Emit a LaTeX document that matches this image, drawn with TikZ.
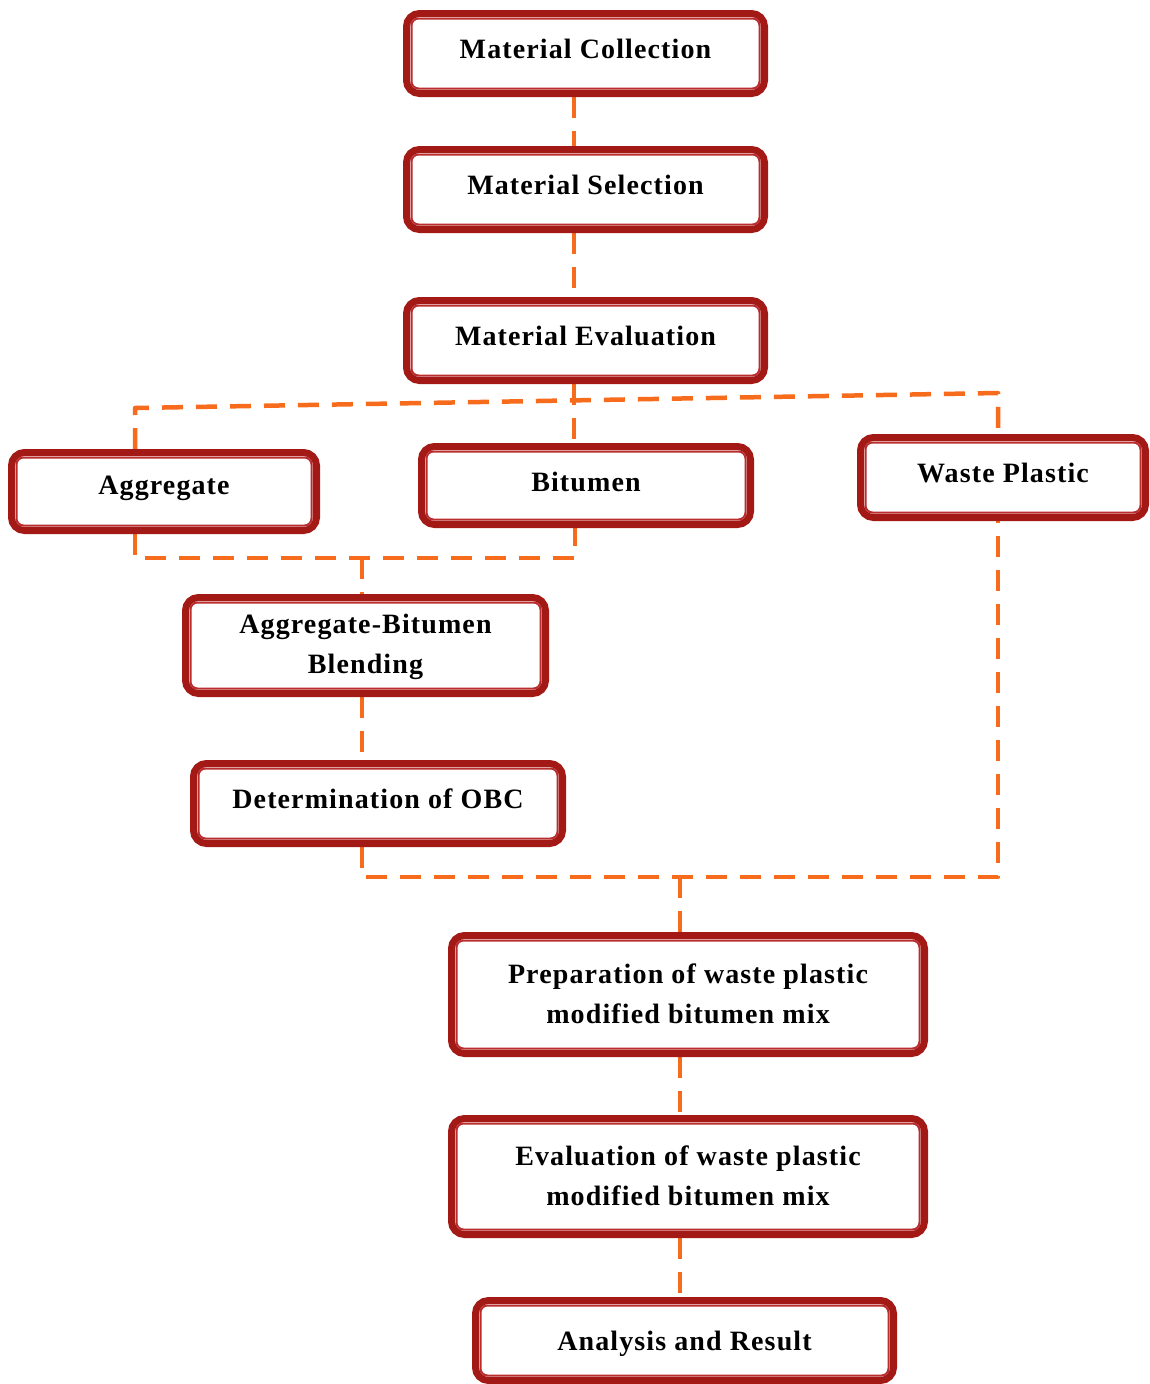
\documentclass[tikz,border=0pt]{standalone}
\usepackage{fontspec}
\setmainfont[LetterSpace=4]{Liberation Serif}
\usetikzlibrary{backgrounds}
\definecolor{boxred}{RGB}{163,25,22}
\definecolor{innerred}{RGB}{185,45,45}
\definecolor{conorange}{RGB}{247,107,28}
\tikzset{
  box/.style={draw=boxred, line width=7pt, rounded corners=13pt, fill=white, inner sep=0pt},
  boxtext/.style={align=center, inner sep=0pt, font=\fontsize{28}{40}\selectfont\bfseries},
  innerline/.style={draw=innerred, line width=2pt, rounded corners=7pt},
  conn/.style={draw=conorange, line width=4.5pt, dash pattern=on 21pt off 13pt, line join=round}
}
\newcommand\flowbox[7]{%
  \pgfmathsetmacro\bw{#4-#2-7}%
  \pgfmathsetmacro\bh{#5-#3-7}%
  \pgfmathsetmacro\cx{(#2+#4)/2}%
  \pgfmathsetmacro\cy{(#3+#5)/2}%
  \node[box, minimum width=\bw pt, minimum height=\bh pt] (#1) at (\cx,\cy) {};
  \draw[innerline] ([shift={(8.5pt,8.5pt)}]#1.south west) rectangle ([shift={(-8.5pt,-8.5pt)}]#1.north east);
  \node[boxtext] (#1t) at ([yshift=#7pt]#1.center) {#6};
}
\begin{document}
\begin{tikzpicture}[x=1pt,y=-1pt]
\useasboundingbox (0,0) rectangle (1149,1384);
\flowbox{mc}{403}{10}{768}{97}{Material Collection}{5}
\flowbox{ms}{403}{146}{768}{233}{Material Selection}{5}
\flowbox{me}{403}{297}{768}{384}{Material Evaluation}{5}
\flowbox{agg}{8}{449}{320}{534}{Aggregate}{3}
\flowbox{bit}{418}{443}{754}{528}{Bitumen}{4}
\flowbox{wp}{857}{434}{1149}{521}{Waste Plastic}{5}
\flowbox{blend}{182}{594}{549}{697}{Aggregate-Bitumen\\Blending}{-1}
\flowbox{obc}{190}{760}{566}{847}{Determination of OBC}{5}
\flowbox{prep}{448}{932}{928}{1057}{Preparation of waste plastic\\modified bitumen mix}{1}
\flowbox{eval}{448}{1115}{928}{1238}{Evaluation of waste plastic\\modified bitumen mix}{1}
\flowbox{ar}{472}{1297}{897}{1384}{Analysis and Result}{-3}
\coordinate (hl) at (135,408);
\coordinate (hr) at (998,393);
\coordinate (bl) at (135,558);
\coordinate (br) at (575,558);
\coordinate (bm) at (362,558);
\coordinate (ol) at (362,877);
\coordinate (or) at (998,877);
\coordinate (om) at (680,877);
\begin{scope}[on background layer]
\draw[conn] ([xshift=-11.5pt]mc.south) -- ([xshift=-11.5pt]ms.north);
\draw[conn] ([xshift=-11.5pt]ms.south) -- ([xshift=-11.5pt]me.north);
\draw[conn] ([xshift=-11.5pt]me.south) -- ([xshift=-12pt]bit.north);
\draw[conn] ([xshift=-29pt]agg.north) -- (hl) -- (hr) -- ([xshift=-5pt]wp.north);
\draw[conn] ([xshift=-29pt]agg.south) -- (bl) -- (br) -- ([xshift=-11pt]bit.south);
\draw[conn] (bm) -- ([xshift=-3.5pt]blend.north);
\draw[conn] ([xshift=-3.5pt]blend.south) -- ([xshift=-16pt]obc.north);
\draw[conn] ([xshift=-16pt]obc.south) -- (ol) -- (or) -- ([xshift=-5pt]wp.south);
\draw[conn] (om) -- ([xshift=-8pt]prep.north);
\draw[conn] ([xshift=-8pt]prep.south) -- ([xshift=-8pt]eval.north);
\draw[conn] ([xshift=-8pt]eval.south) -- ([xshift=-4.5pt]ar.north);
\end{scope}
\end{tikzpicture}
\end{document}
